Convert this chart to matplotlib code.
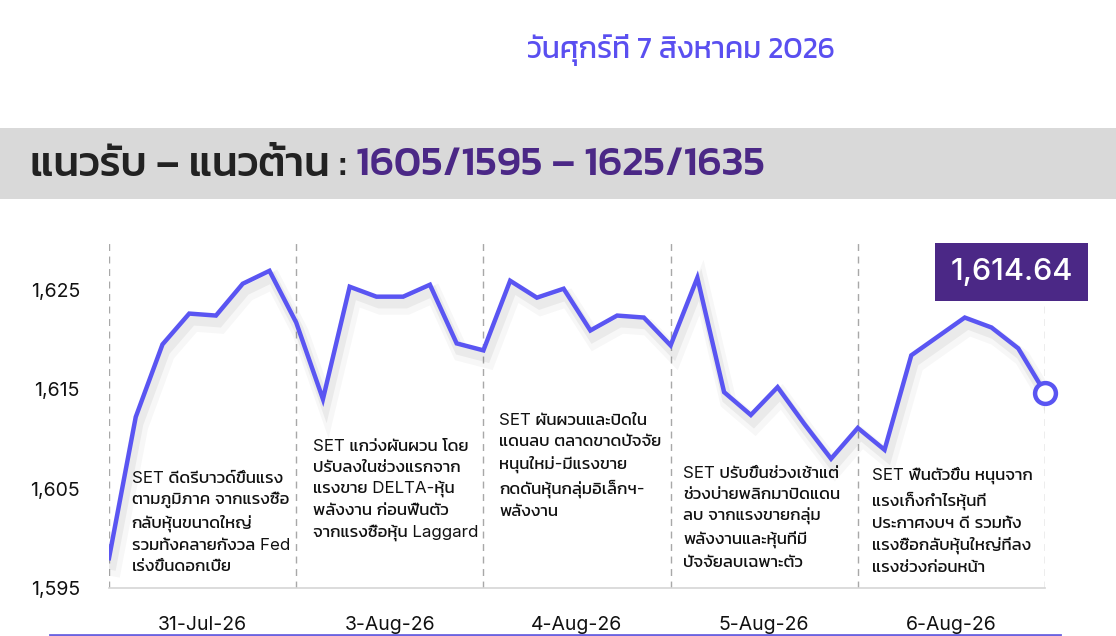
import matplotlib
matplotlib.use("Agg")
import matplotlib.pyplot as plt
import matplotlib.patheffects as pe
from matplotlib import font_manager
import numpy as np


# ---- data ----
days = ["31-Jul-26", "3-Aug-26", "4-Aug-26", "5-Aug-26", "6-Aug-26"]
set_index = [
    1598.0, 1612.2, 1619.5, 1622.6, 1622.4, 1625.6, 1626.9, 1621.7,
    1614.0, 1625.3, 1624.3, 1624.3, 1625.5, 1619.6, 1618.9,
    1625.9, 1624.2, 1625.1, 1620.9, 1622.4, 1622.2, 1619.4,
    1626.2, 1614.7, 1612.4, 1615.2, 1611.5, 1608.0, 1611.1,
    1608.9, 1618.4, 1620.3, 1622.2, 1621.2, 1619.1, 1614.64,
]
steps_per_day = 7
yticks = [1595, 1605, 1615, 1625]
notes = [
    "SET ดีดรีบาวด์ขึ้นแรง\nตามภูมิภาค จากแรงซื้อ\nกลับหุ้นขนาดใหญ่\nรวมทั้งคลายกังวล Fed\nเร่งขึ้นดอกเบี้ย",
    "SET แกว่งผันผวน โดย\nปรับลงในช่วงแรกจาก\nแรงขาย DELTA-หุ้น\nพลังงาน ก่อนฟื้นตัว\nจากแรงซื้อหุ้น Laggard",
    "SET ผันผวนและปิดใน\nแดนลบ ตลาดขาดปัจจัย\nหนุนใหม่-มีแรงขาย\nกดดันหุ้นกลุ่มอิเล็กฯ-\nพลังงาน",
    "SET ปรับขึ้นช่วงเช้าแต่\nช่วงบ่ายพลิกมาปิดแดน\nลบ จากแรงขายกลุ่ม\nพลังงานและหุ้นที่มี\nปัจจัยลบเฉพาะตัว",
    "SET ฟื้นตัวขึ้น หนุนจาก\nแรงเก็งกำไรหุ้นที่\nประกาศงบฯ ดี รวมทั้ง\nแรงซื้อกลับหุ้นใหญ่ที่ลง\nแรงช่วงก่อนหน้า",
]
date_title = "วันศุกร์ที่ 7 สิงหาคม 2026"
head_left = "แนวรับ – แนวต้าน : "
head_right = "1605/1595 – 1625/1635"
last_label = "1,614.64"

# note placement (data units: x offset from day start, y of top line)
note_dx = [0.85, 0.63, 0.6, 0.48, 0.53]
note_y = [1606.8, 1610.0, 1612.6, 1607.3, 1607.2]

LINE = "#5a55f2"
PURPLE = "#4b2886"

names = {f.name for f in font_manager.fontManager.ttflist}
THAI = "Kanit" if "Kanit" in names else "Noto Sans Thai"
plt.rcParams["font.family"] = ["Inter", THAI, "DejaVu Sans"]

fig = plt.figure(figsize=(11.16, 6.36), dpi=100)

# background axes in pixel coordinates for the header pieces
bg = fig.add_axes([0, 0, 1, 1])
bg.set_xlim(0, 1116)
bg.set_ylim(636, 0)
bg.axis("off")
bg.add_patch(plt.Rectangle((0, 128), 1116, 71, color="#d9d9d9", lw=0))
bg.text(681, 50, date_title, color="#5a4ff0", fontsize=21.5, ha="center", va="center",
        family=[THAI, "DejaVu Sans"])
t1 = bg.text(30, 166, head_left, color="#222222", fontsize=30, fontweight="medium",
             ha="left", va="center", family=[THAI, "DejaVu Sans"])
bg.annotate(head_right, xy=(1, 0.5), xycoords=t1, va="center", ha="left",
            color=PURPLE, fontsize=30, fontweight="medium", family=[THAI, "DejaVu Sans"])
bg.plot([50, 1060], [635, 635], color="#6b63e0", lw=2)

# main chart
ax = fig.add_axes([109 / 1116, 1 - 588 / 636, (1045 - 109) / 1116, (588 - 240) / 636])
x = np.arange(len(set_index))
n_days = len(days)
ax.set_xlim(0, steps_per_day * n_days)
ax.set_ylim(1595, 1630)

for i in range(n_days + 1):
    ax.axvline(i * steps_per_day, color="#a8a8a8", lw=1, ls=(0, (5, 4)), zorder=1)

shadow = [
    pe.SimpleLineShadow(offset=(3, -7), shadow_color="#000000", alpha=0.03, linewidth=12),
    pe.SimpleLineShadow(offset=(2, -5), shadow_color="#000000", alpha=0.05, linewidth=7),
    pe.Normal(),
]
ax.plot(x, set_index, color=LINE, lw=3.2, solid_joinstyle="miter", zorder=3,
        path_effects=shadow)
ax.plot(x[-1], set_index[-1], "o", ms=15, mfc="white", mec=LINE, mew=3.2, zorder=4,
        clip_on=False)

ax.text(x[-1] + 1.05, 1626.8, last_label, color="white", fontsize=22, fontweight="medium",
        ha="right", va="center", zorder=5,
        bbox=dict(boxstyle="square,pad=0.5", fc=PURPLE, ec="none"))

for i, txt in enumerate(notes):
    ax.text(i * steps_per_day + note_dx[i], note_y[i], txt, fontsize=12.2, va="top",
            ha="left", linespacing=1.5, color="#111111", zorder=2)

ax.set_yticks(yticks)
ax.set_yticklabels([f"{v:,}" for v in yticks], fontsize=14, color="#111111")
ax.set_xticks([i * steps_per_day + steps_per_day / 2 for i in range(n_days)])
ax.set_xticklabels(days, fontsize=14, color="#111111")
ax.tick_params(length=0, axis="y", pad=21)
ax.tick_params(length=0, axis="x", pad=20)
for s in ["top", "right", "left"]:
    ax.spines[s].set_visible(False)
ax.spines["bottom"].set_color("#d5d5d5")
ax.spines["bottom"].set_linewidth(1.2)
ax.patch.set_alpha(0)

fig.savefig("out.png", dpi=100)
